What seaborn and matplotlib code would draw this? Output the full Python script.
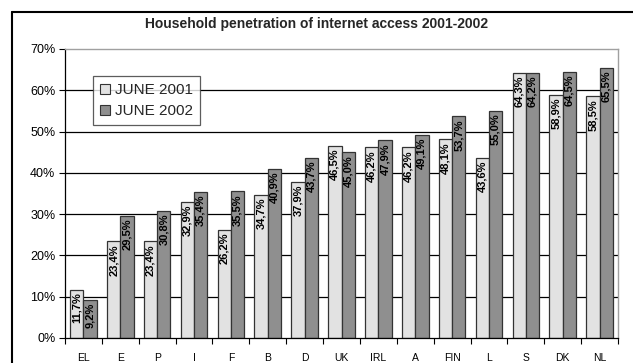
import matplotlib
matplotlib.use("Agg")
import matplotlib.pyplot as plt
import seaborn as sns
import pandas as pd
import numpy as np
from matplotlib.lines import Line2D

countries = ["EL", "E", "P", "I", "F", "B", "D", "UK", "IRL", "A", "FIN", "L", "S", "DK", "NL"]
june_2001 = [11.7, 23.4, 23.4, 32.9, 26.2, 34.7, 37.9, 46.5, 46.2, 46.2, 48.1, 43.6, 64.3, 58.9, 58.5]
june_2002 = [9.2, 29.5, 30.8, 35.4, 35.5, 40.9, 43.7, 45.0, 47.9, 49.1, 53.7, 55.0, 64.2, 64.5, 65.5]
series_names = ["JUNE 2001", "JUNE 2002"]
y_ticks = [0, 10, 20, 30, 40, 50, 60, 70]
title = "Household penetration of internet access 2001-2002"

df = pd.DataFrame({
    "country": countries * 2,
    "period": [series_names[0]] * len(countries) + [series_names[1]] * len(countries),
    "value": june_2001 + june_2002,
})

sns.set_theme(style="white")
plt.rcParams["font.family"] = ["Liberation Sans", "DejaVu Sans"]

W, H = 633, 363
fig = plt.figure(figsize=(W / 100, H / 100), dpi=100)
left_px, right_px, top_px, bot_px = 65, 618, 49, 338
ax = fig.add_axes([left_px / W, 1 - bot_px / H, (right_px - left_px) / W, (bot_px - top_px) / H])

sns.barplot(data=df, x="country", y="value", hue="period", order=countries,
            hue_order=series_names, palette=["#e2e2e2", "#8f8f8f"],
            edgecolor="#333333", linewidth=0.9, width=0.72, ax=ax, legend=True,
            saturation=1)

ax.set_ylim(0, 70)
ax.set_xlim(-0.5, len(countries) - 0.5)
ax.set_yticks(y_ticks)
ax.set_yticklabels([f"{t}%" for t in y_ticks], fontsize=9)
ax.set_xlabel("")
ax.set_ylabel("")
ax.tick_params(axis="x", which="major", length=0, pad=11, labelsize=7.5)
ax.set_xticks(np.arange(-0.5, len(countries), 1), minor=True)
ax.tick_params(axis="x", which="minor", length=4, width=0.8, color="black", direction="out", bottom=True)
ax.tick_params(axis="y", length=4, width=0.8, color="black", direction="out", left=True, pad=3)
for lbl in ax.get_xticklabels() + ax.get_yticklabels():
    lbl.set_color("black")

for t in y_ticks[1:-1]:
    ax.axhline(t, color="black", linewidth=0.9, zorder=0)

for side in ["top", "right"]:
    ax.spines[side].set_color("#a0a0a0")
    ax.spines[side].set_linewidth(1.0)
for side in ["left", "bottom"]:
    ax.spines[side].set_color("black")
    ax.spines[side].set_linewidth(0.9)

for container in ax.containers:
    for patch in container:
        h = patch.get_height()
        x = patch.get_x() + patch.get_width() / 2
        ax.annotate(f"{h:.1f}".replace(".", ",") + "%", (x, h), xytext=(0, -2),
                    textcoords="offset points", rotation=90, ha="center", va="top",
                    fontsize=8, fontweight="bold", color="black")

leg = ax.legend(loc="upper left", bbox_to_anchor=(0.05, 0.905), borderaxespad=0,
                fontsize=11, frameon=True, fancybox=False, shadow=False, handlelength=0.7,
                handleheight=0.7, handletextpad=0.3, borderpad=0.45, labelspacing=0.45)
leg.get_frame().set_edgecolor("#333333")
leg.get_frame().set_linewidth(0.9)
leg.get_frame().set_facecolor("white")
for hnd in leg.legend_handles:
    hnd.set_edgecolor("#333333")
    hnd.set_linewidth(0.8)

fig.text(0.5, 1 - 24 / H, title, ha="center", va="center", fontsize=10, fontweight="bold")

# outer chart-area border (top and left, extending past the image edges)
fig.add_artist(Line2D([12 / W, 1.01], [1 - 12 / H, 1 - 12 / H], color="black", linewidth=1.5, transform=fig.transFigure))
fig.add_artist(Line2D([12 / W, 12 / W], [1 - 12 / H, -0.01], color="black", linewidth=1.5, transform=fig.transFigure))

fig.savefig("out.png", dpi=100)
